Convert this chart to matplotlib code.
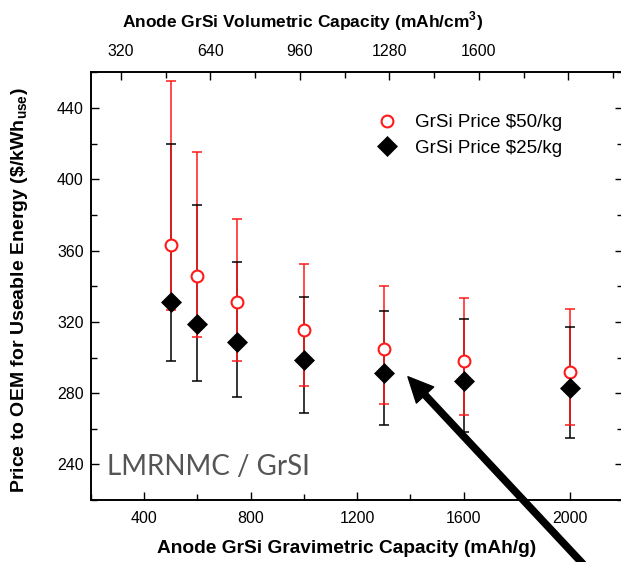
import matplotlib
matplotlib.use("Agg")
import matplotlib.pyplot as plt
from matplotlib.ticker import MultipleLocator

plt.rcParams['font.family'] = ['Liberation Sans', 'DejaVu Sans']
plt.rcParams['mathtext.fontset'] = 'custom'
plt.rcParams['mathtext.rm'] = 'Liberation Sans'
plt.rcParams['mathtext.bf'] = 'Liberation Sans:bold'

# Gravimetric capacity of the GrSi anode (mAh/g)
capacity = [500, 600, 750, 1000, 1300, 1600, 2000]

# GrSi at $50/kg: central price and range ($/kWh_use)
price50 = [363.3, 346.0, 331.1, 315.6, 304.8, 297.8, 292.0]
price50_hi = [455.2, 415.6, 378.0, 352.4, 340.4, 333.4, 327.2]
price50_lo = [326.8, 311.7, 297.8, 283.8, 274.1, 267.9, 262.3]

# GrSi at $25/kg
price25 = [330.9, 318.9, 308.5, 298.8, 291.3, 287.0, 282.9]
price25_hi = [419.7, 385.7, 353.7, 333.7, 326.2, 321.6, 317.4]
price25_lo = [297.8, 287.0, 277.8, 268.6, 262.3, 258.2, 254.8]

legend_labels = ['GrSi Price $50/kg', 'GrSi Price $25/kg']

# Volumetric scale ticks (last tick unlabeled)
vol_ticks = [320, 640, 960, 1280, 1600, 1920]
vol_labels = ['320', '640', '960', '1280', '1600', '']

RED = '#ff1a1a'

fig = plt.figure(figsize=(6.21, 5.62), dpi=100)
ax = fig.add_axes([0.146, 0.1103, 0.858, 0.7607])

def err(c, lo, hi):
    return [[ci - l for ci, l in zip(c, lo)], [h - ci for ci, h in zip(c, hi)]]

# $25/kg bars underneath
b_line, b_caps, b_bars = ax.errorbar(capacity, price25, yerr=err(price25, price25_lo, price25_hi),
                                     fmt='none', ecolor='black', elinewidth=1.1,
                                     capsize=3.6, capthick=1.1, zorder=2)
for c in b_caps:
    c.set_zorder(6)

# $50/kg bars and open circles
r_line, r_caps, r_bars = ax.errorbar(capacity, price50, yerr=err(price50, price50_lo, price50_hi),
                                     fmt='none', ecolor=RED, elinewidth=1.1,
                                     capsize=3.6, capthick=1.1, zorder=3)
h50, = ax.plot(capacity, price50, linestyle='none', marker='o', ms=8.5, mfc='white',
               mec=RED, mew=1.5, zorder=4, label=legend_labels[0])
h25, = ax.plot(capacity, price25, linestyle='none', marker='D', ms=9.8, mfc='black',
               mec='black', mew=0.5, zorder=5, label=legend_labels[1])

ax.set_xlim(200, 2200)
ax.set_ylim(220, 460)
ax.xaxis.set_major_locator(MultipleLocator(400))
ax.xaxis.set_minor_locator(MultipleLocator(200))
ax.yaxis.set_minor_locator(MultipleLocator(20))
ax.set_yticks([240, 280, 320, 360, 400, 440])
ax.tick_params(which='both', direction='in', top=False, right=True, width=1.0,
               labelsize=11.5)
ax.tick_params(axis='x', pad=8)
ax.tick_params(axis='y', pad=5)
ax.tick_params(which='major', length=6)
ax.tick_params(which='minor', length=4)
for s in ax.spines.values():
    s.set_linewidth(1.2)

ax.set_xlabel('Anode GrSi Gravimetric Capacity (mAh/g)', fontsize=13.8,
              fontweight='bold')
ax.xaxis.set_label_coords(0.481, -0.094)
ax.set_ylabel(r'Price to OEM for Useable Energy (\$/kWh$_{\mathbf{use}}$)', fontsize=14,
              fontweight='bold')
ax.yaxis.set_label_coords(-0.114, 0.49)

# Volumetric capacity scale along the top
top = ax.twiny()
top.set_xlim(211.7, 2116.7)
top.set_xticks(vol_ticks, vol_labels)
top.xaxis.set_minor_locator(MultipleLocator(160))
top.tick_params(which='both', direction='in', width=1.0, labelsize=11.5, pad=10)
top.tick_params(which='major', length=6)
top.tick_params(which='minor', length=4)
top.set_xlabel(r'Anode GrSi Volumetric Capacity (mAh/cm$^\mathbf{3}$)', fontsize=12.5,
               fontweight='bold')
top.xaxis.set_label_coords(0.397, 1.105)
for s in top.spines.values():
    s.set_linewidth(1.2)

ax.legend(handles=[h50, h25], loc='upper left', bbox_to_anchor=(0.527, 0.920),
          frameon=False, fontsize=13.5, handlelength=0.9, handletextpad=1.0,
          labelspacing=0.45, borderaxespad=0)

ax.text(0.031, 0.058, 'LMRNMC / GrSI', transform=ax.transAxes, fontsize=20,
        family=['Lato', 'DejaVu Sans'], color='#555555', ha='left', va='baseline')

ax.annotate('', xy=(1391, 289.2), xycoords='data',
            xytext=(583, -2), textcoords='figure pixels',
            arrowprops=dict(facecolor='black', edgecolor='black', width=4.5,
                            headwidth=17, headlength=18, shrink=0),
            annotation_clip=False, zorder=7)

fig.savefig('out.png', dpi=100)
